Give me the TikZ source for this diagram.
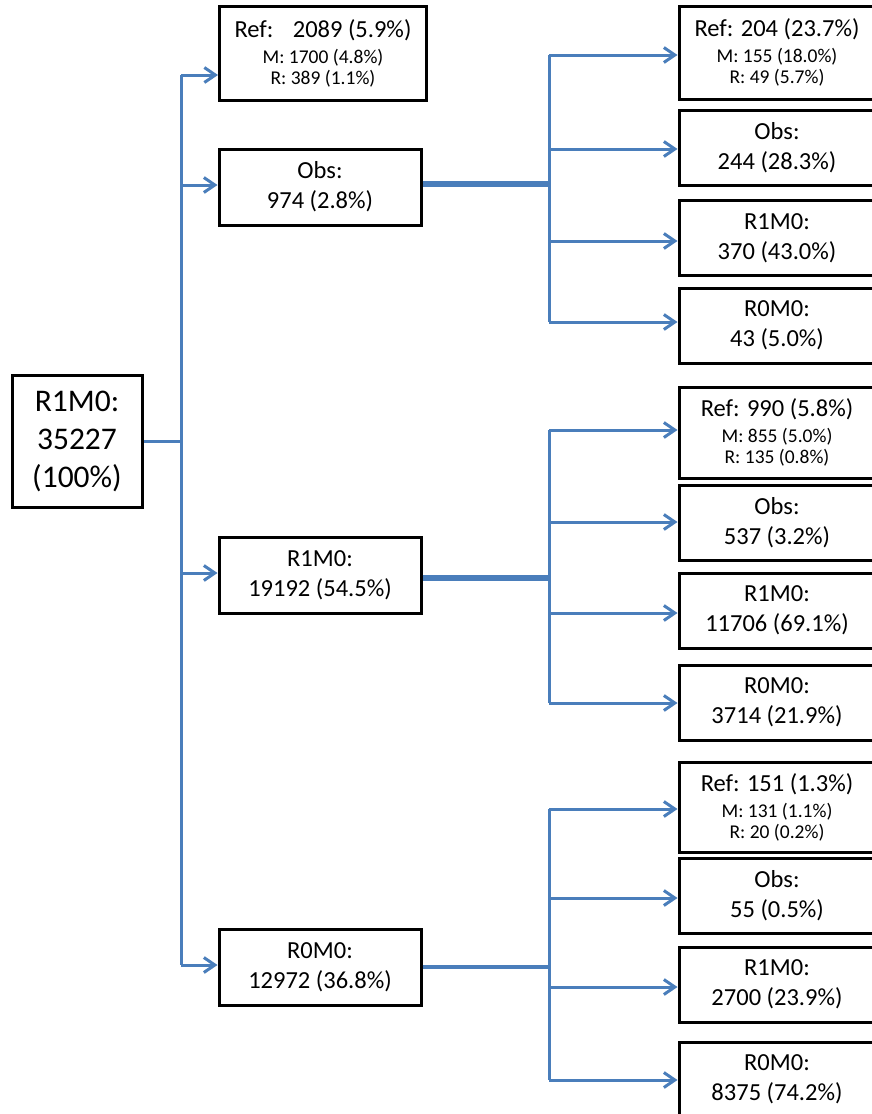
\documentclass[tikz,border=0pt]{standalone}
\usepackage{fontspec}
\setmainfont{Carlito}
\usetikzlibrary{arrows.meta, calc}
\definecolor{lnkblue}{HTML}{4A7EBB}
\tikzset{%
    box/.style={draw, line width=3pt, inner sep=0pt, align=center,
        font=\fontsize{24.5}{30}\selectfont},
    lev/.style={box, minimum width=202pt, minimum height=76pt},
    leaf/.style={box, minimum width=196pt, minimum height=75pt},
    lnk/.style={draw=lnkblue, line width=3pt},
    lnka/.style={lnk, -{Straight Barb[length=11pt,width=15pt,line width=3pt]}},
    lnkt/.style={draw=lnkblue, line width=6pt},
}
\newcommand{\sm}[1]{{\fontsize{19.5}{22}\selectfont #1}}

\begin{document}
\begin{tikzpicture}[x=1pt,y=-1pt]
    \useasboundingbox (0,0) rectangle (871,1114);
    % root
    \node[box, minimum width=130pt, minimum height=132pt,
        font=\fontsize{31.5}{38}\selectfont] (root) at (77,441) {R1M0:\\35227\\(100\%)};
    % first split
    \node[box, minimum width=207pt, minimum height=94pt] (ref1) at (323,53)
        {Ref:\hspace{12pt} 2089 (5.9\%)\\[-4pt]\sm{M: 1700 (4.8\%)}\\[-9pt]\sm{R: 389 (1.1\%)}};
    \node[lev] (obs1) at (320,187) {Obs:\\974 (2.8\%)};
    \node[lev] (rm1) at (320,575) {R1M0:\\19192 (54.5\%)};
    \node[lev] (rr1) at (320,967) {R0M0:\\12972 (36.8\%)};
    \coordinate (a1) at (181,75);
    \coordinate (a2) at (181,185);
    \coordinate (a3) at (181,573);
    \coordinate (a4) at (181,965);
    \draw[lnk] (root.east) -- (root.east -| a1);
    \draw[lnk] (a1) -- (a4);
    \draw[lnka] (a1) -- (a1 -| ref1.west);
    \draw[lnka] (a2) -- (a2 -| obs1.west);
    \draw[lnka] (a3) -- (a3 -| rm1.west);
    \draw[lnka] (a4) -- (a4 -| rr1.west);
    % after Obs
    \node[box, minimum width=196pt, minimum height=93pt] (obsref) at (777,52.5)
        {Ref: 204 (23.7\%)\\[-4pt]\sm{M: 155 (18.0\%)}\\[-9pt]\sm{R: 49 (5.7\%)}};
    \node[leaf] (obsobs) at (777,148) {Obs:\\244 (28.3\%)};
    \node[leaf] (obsrm) at (777,238) {R1M0:\\370 (43.0\%)};
    \node[leaf] (obsrr) at (777,325.5) {R0M0:\\43 (5.0\%)};
    \coordinate (b0) at (549,184);
    \coordinate (b1) at (549,55);
    \coordinate (b2) at (549,149);
    \coordinate (b3) at (549,241);
    \coordinate (b4) at (549,322);
    \draw[lnkt] (obs1.east |- b0) -- (b0);
    \draw[lnk] (b1) -- (b4);
    \draw[lnka] (b1) -- (b1 -| obsref.west);
    \draw[lnka] (b2) -- (b2 -| obsobs.west);
    \draw[lnka] (b3) -- (b3 -| obsrm.west);
    \draw[lnka] (b4) -- (b4 -| obsrr.west);
    % after R1M0
    \node[box, minimum width=196pt, minimum height=91pt] (rmref) at (777,432.5)
        {Ref: 990 (5.8\%)\\[-4pt]\sm{M: 855 (5.0\%)}\\[-9pt]\sm{R: 135 (0.8\%)}};
    \node[leaf] (rmobs) at (777,522.5) {Obs:\\537 (3.2\%)};
    \node[leaf] (rmrm) at (777,610.5) {R1M0:\\11706 (69.1\%)};
    \node[leaf] (rmrr) at (777,702.5) {R0M0:\\3714 (21.9\%)};
    \coordinate (c0) at (549,578);
    \coordinate (c1) at (549,430);
    \coordinate (c2) at (549,522);
    \coordinate (c3) at (549,613);
    \coordinate (c4) at (549,703);
    \draw[lnkt, line width=5.5pt] (rm1.east |- c0) -- (c0);
    \draw[lnk] (c1) -- (c4);
    \draw[lnka] (c1) -- (c1 -| rmref.west);
    \draw[lnka] (c2) -- (c2 -| rmobs.west);
    \draw[lnka] (c3) -- (c3 -| rmrm.west);
    \draw[lnka] (c4) -- (c4 -| rmrr.west);
    % after R0M0
    \node[box, minimum width=196pt, minimum height=90pt] (rrref) at (777,807)
        {Ref: 151 (1.3\%)\\[-4pt]\sm{M: 131 (1.1\%)}\\[-9pt]\sm{R: 20 (0.2\%)}};
    \node[leaf] (rrobs) at (777,895.5) {Obs:\\55 (0.5\%)};
    \node[leaf] (rrrm) at (777,984.5) {R1M0:\\2700 (23.9\%)};
    \node[leaf] (rrrr) at (777,1079.5) {R0M0:\\8375 (74.2\%)};
    \coordinate (d0) at (549,967);
    \coordinate (d1) at (549,809);
    \coordinate (d2) at (549,898);
    \coordinate (d3) at (549,987);
    \coordinate (d4) at (549,1080);
    \draw[lnkt, line width=4.5pt] (rr1.east |- d0) -- (d0);
    \draw[lnk] (d1) -- (d4);
    \draw[lnka] (d1) -- (d1 -| rrref.west);
    \draw[lnka] (d2) -- (d2 -| rrobs.west);
    \draw[lnka] (d3) -- (d3 -| rrrm.west);
    \draw[lnka] (d4) -- (d4 -| rrrr.west);
\end{tikzpicture}
\end{document}
